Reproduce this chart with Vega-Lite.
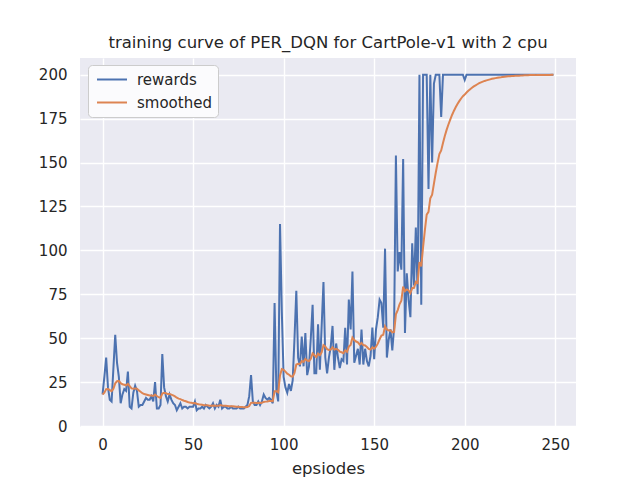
{
  "$schema": "https://vega.github.io/schema/vega-lite/v6.json",
  "width": 496,
  "height": 369,
  "autosize": {"type": "none"},
  "padding": {"left": 80, "top": 58, "right": 64, "bottom": 53},
  "background": "white",
  "title": {"text": "training curve of PER_DQN for CartPole-v1 with 2 cpu", "font": "DejaVu Sans", "fontSize": 16.5, "fontWeight": "normal", "color": "#262626", "offset": 7},
  "config": {
    "view": {"fill": "#EAEAF2", "stroke": null},
    "font": "DejaVu Sans"
  },
  "data": {"values": [
{"episode":0,"rewards":18,"smoothed":18.0},{"episode":1,"rewards":28,"smoothed":19.0},{"episode":2,"rewards":39,"smoothed":21.0},{"episode":3,"rewards":22,"smoothed":21.1},{"episode":4,"rewards":15,"smoothed":20.5},{"episode":5,"rewards":14,"smoothed":19.9},{"episode":6,"rewards":33,"smoothed":21.2},{"episode":7,"rewards":52,"smoothed":24.3},{"episode":8,"rewards":36,"smoothed":25.5},{"episode":9,"rewards":28,"smoothed":25.7},
{"episode":10,"rewards":13,"smoothed":24.4},{"episode":11,"rewards":18,"smoothed":23.8},{"episode":12,"rewards":21,"smoothed":23.5},{"episode":13,"rewards":20,"smoothed":23.2},{"episode":14,"rewards":31,"smoothed":24.0},{"episode":15,"rewards":11,"smoothed":22.7},{"episode":16,"rewards":10,"smoothed":21.4},{"episode":17,"rewards":19,"smoothed":21.2},{"episode":18,"rewards":23,"smoothed":21.4},{"episode":19,"rewards":20,"smoothed":21.3},
{"episode":20,"rewards":11,"smoothed":20.3},{"episode":21,"rewards":12,"smoothed":19.5},{"episode":22,"rewards":12,"smoothed":18.7},{"episode":23,"rewards":14,"smoothed":18.2},{"episode":24,"rewards":16,"smoothed":18.0},{"episode":25,"rewards":15,"smoothed":17.7},{"episode":26,"rewards":15,"smoothed":17.4},{"episode":27,"rewards":17,"smoothed":17.4},{"episode":28,"rewards":14,"smoothed":17.1},{"episode":29,"rewards":25,"smoothed":17.9},
{"episode":30,"rewards":10,"smoothed":17.1},{"episode":31,"rewards":10,"smoothed":16.4},{"episode":32,"rewards":12,"smoothed":16.0},{"episode":33,"rewards":41,"smoothed":18.5},{"episode":34,"rewards":22,"smoothed":18.9},{"episode":35,"rewards":17,"smoothed":18.7},{"episode":36,"rewards":14,"smoothed":18.2},{"episode":37,"rewards":18,"smoothed":18.2},{"episode":38,"rewards":15,"smoothed":17.9},{"episode":39,"rewards":13,"smoothed":17.4},
{"episode":40,"rewards":12,"smoothed":16.9},{"episode":41,"rewards":9,"smoothed":16.1},{"episode":42,"rewards":11,"smoothed":15.6},{"episode":43,"rewards":13,"smoothed":15.3},{"episode":44,"rewards":10,"smoothed":14.8},{"episode":45,"rewards":11,"smoothed":14.4},{"episode":46,"rewards":11,"smoothed":14.1},{"episode":47,"rewards":10,"smoothed":13.7},{"episode":48,"rewards":11,"smoothed":13.4},{"episode":49,"rewards":11,"smoothed":13.2},
{"episode":50,"rewards":11,"smoothed":13.0},{"episode":51,"rewards":14,"smoothed":13.1},{"episode":52,"rewards":9,"smoothed":12.7},{"episode":53,"rewards":10,"smoothed":12.4},{"episode":54,"rewards":10,"smoothed":12.2},{"episode":55,"rewards":11,"smoothed":12.1},{"episode":56,"rewards":10,"smoothed":11.9},{"episode":57,"rewards":12,"smoothed":11.9},{"episode":58,"rewards":11,"smoothed":11.8},{"episode":59,"rewards":10,"smoothed":11.6},
{"episode":60,"rewards":11,"smoothed":11.5},{"episode":61,"rewards":13,"smoothed":11.7},{"episode":62,"rewards":10,"smoothed":11.5},{"episode":63,"rewards":12,"smoothed":11.6},{"episode":64,"rewards":11,"smoothed":11.5},{"episode":65,"rewards":15,"smoothed":11.9},{"episode":66,"rewards":10,"smoothed":11.7},{"episode":67,"rewards":11,"smoothed":11.6},{"episode":68,"rewards":11,"smoothed":11.5},{"episode":69,"rewards":10,"smoothed":11.4},
{"episode":70,"rewards":10,"smoothed":11.3},{"episode":71,"rewards":11,"smoothed":11.3},{"episode":72,"rewards":10,"smoothed":11.2},{"episode":73,"rewards":10,"smoothed":11.1},{"episode":74,"rewards":10,"smoothed":11.0},{"episode":75,"rewards":11,"smoothed":11.0},{"episode":76,"rewards":10,"smoothed":10.9},{"episode":77,"rewards":10,"smoothed":10.8},{"episode":78,"rewards":10,"smoothed":10.7},{"episode":79,"rewards":11,"smoothed":10.7},
{"episode":80,"rewards":12,"smoothed":10.8},{"episode":81,"rewards":17,"smoothed":11.4},{"episode":82,"rewards":29,"smoothed":13.2},{"episode":83,"rewards":14,"smoothed":13.3},{"episode":84,"rewards":12,"smoothed":13.2},{"episode":85,"rewards":12,"smoothed":13.1},{"episode":86,"rewards":14,"smoothed":13.2},{"episode":87,"rewards":12,"smoothed":13.1},{"episode":88,"rewards":14,"smoothed":13.2},{"episode":89,"rewards":18,"smoothed":13.7},
{"episode":90,"rewards":16,"smoothed":13.9},{"episode":91,"rewards":15,"smoothed":14.0},{"episode":92,"rewards":16,"smoothed":14.2},{"episode":93,"rewards":15,"smoothed":14.3},{"episode":94,"rewards":13,"smoothed":14.2},{"episode":95,"rewards":70,"smoothed":19.8},{"episode":96,"rewards":20,"smoothed":19.8},{"episode":97,"rewards":14,"smoothed":19.2},{"episode":98,"rewards":115,"smoothed":28.8},{"episode":99,"rewards":65,"smoothed":32.4},
{"episode":100,"rewards":28,"smoothed":32.0},{"episode":101,"rewards":22,"smoothed":31.0},{"episode":102,"rewards":19,"smoothed":29.8},{"episode":103,"rewards":24,"smoothed":29.2},{"episode":104,"rewards":20,"smoothed":28.3},{"episode":105,"rewards":26,"smoothed":28.1},{"episode":106,"rewards":50,"smoothed":30.3},{"episode":107,"rewards":77,"smoothed":35.0},{"episode":108,"rewards":39,"smoothed":35.4},{"episode":109,"rewards":34,"smoothed":35.3},
{"episode":110,"rewards":51,"smoothed":36.9},{"episode":111,"rewards":34,"smoothed":36.6},{"episode":112,"rewards":53,"smoothed":38.2},{"episode":113,"rewards":29,"smoothed":37.3},{"episode":114,"rewards":34,"smoothed":37.0},{"episode":115,"rewards":50,"smoothed":38.3},{"episode":116,"rewards":69,"smoothed":41.4},{"episode":117,"rewards":30,"smoothed":40.3},{"episode":118,"rewards":30,"smoothed":39.3},{"episode":119,"rewards":58,"smoothed":41.2},
{"episode":120,"rewards":32,"smoothed":40.3},{"episode":121,"rewards":57,"smoothed":42.0},{"episode":122,"rewards":82,"smoothed":46.0},{"episode":123,"rewards":39,"smoothed":45.3},{"episode":124,"rewards":30,"smoothed":43.8},{"episode":125,"rewards":39,"smoothed":43.3},{"episode":126,"rewards":45,"smoothed":43.5},{"episode":127,"rewards":57,"smoothed":44.8},{"episode":128,"rewards":32,"smoothed":43.5},{"episode":129,"rewards":47,"smoothed":43.9},
{"episode":130,"rewards":39,"smoothed":43.4},{"episode":131,"rewards":33,"smoothed":42.4},{"episode":132,"rewards":38,"smoothed":42.0},{"episode":133,"rewards":37,"smoothed":41.5},{"episode":134,"rewards":56,"smoothed":43.0},{"episode":135,"rewards":35,"smoothed":42.2},{"episode":136,"rewards":72,"smoothed":45.2},{"episode":137,"rewards":55,"smoothed":46.2},{"episode":138,"rewards":88,"smoothed":50.4},{"episode":139,"rewards":36,"smoothed":49.0},
{"episode":140,"rewards":40,"smoothed":48.1},{"episode":141,"rewards":44,"smoothed":47.7},{"episode":142,"rewards":35,"smoothed":46.4},{"episode":143,"rewards":55,"smoothed":47.3},{"episode":144,"rewards":35,"smoothed":46.1},{"episode":145,"rewards":44,"smoothed":45.9},{"episode":146,"rewards":37,"smoothed":45.0},{"episode":147,"rewards":34,"smoothed":43.9},{"episode":148,"rewards":40,"smoothed":43.5},{"episode":149,"rewards":56,"smoothed":44.8},
{"episode":150,"rewards":38,"smoothed":44.1},{"episode":151,"rewards":55,"smoothed":45.2},{"episode":152,"rewards":62,"smoothed":46.9},{"episode":153,"rewards":72,"smoothed":49.4},{"episode":154,"rewards":70,"smoothed":51.5},{"episode":155,"rewards":56,"smoothed":51.9},{"episode":156,"rewards":101,"smoothed":56.8},{"episode":157,"rewards":39,"smoothed":55.0},{"episode":158,"rewards":49,"smoothed":54.4},{"episode":159,"rewards":55,"smoothed":54.5},
{"episode":160,"rewards":43,"smoothed":53.3},{"episode":161,"rewards":56,"smoothed":53.6},{"episode":162,"rewards":154,"smoothed":63.6},{"episode":163,"rewards":88,"smoothed":66.0},{"episode":164,"rewards":99,"smoothed":69.3},{"episode":165,"rewards":89,"smoothed":71.3},{"episode":166,"rewards":152,"smoothed":79.4},{"episode":167,"rewards":53,"smoothed":76.8},{"episode":168,"rewards":87,"smoothed":77.8},{"episode":169,"rewards":72,"smoothed":77.2},
{"episode":170,"rewards":62,"smoothed":75.7},{"episode":171,"rewards":104,"smoothed":78.5},{"episode":172,"rewards":80,"smoothed":78.7},{"episode":173,"rewards":113,"smoothed":82.1},{"episode":174,"rewards":75,"smoothed":81.4},{"episode":175,"rewards":200,"smoothed":93.3},{"episode":176,"rewards":69,"smoothed":90.9},{"episode":177,"rewards":200,"smoothed":101.8},{"episode":178,"rewards":200,"smoothed":111.6},{"episode":179,"rewards":200,"smoothed":120.4},
{"episode":180,"rewards":135,"smoothed":121.9},{"episode":181,"rewards":200,"smoothed":129.7},{"episode":182,"rewards":150,"smoothed":131.7},{"episode":183,"rewards":195,"smoothed":138.0},{"episode":184,"rewards":200,"smoothed":144.2},{"episode":185,"rewards":200,"smoothed":149.8},{"episode":186,"rewards":200,"smoothed":154.8},{"episode":187,"rewards":176,"smoothed":156.9},{"episode":188,"rewards":200,"smoothed":161.2},{"episode":189,"rewards":200,"smoothed":165.1},
{"episode":190,"rewards":200,"smoothed":168.6},{"episode":191,"rewards":200,"smoothed":171.7},{"episode":192,"rewards":200,"smoothed":174.5},{"episode":193,"rewards":200,"smoothed":177.1},{"episode":194,"rewards":200,"smoothed":179.4},{"episode":195,"rewards":200,"smoothed":181.5},{"episode":196,"rewards":200,"smoothed":183.3},{"episode":197,"rewards":200,"smoothed":185.0},{"episode":198,"rewards":200,"smoothed":186.5},{"episode":199,"rewards":200,"smoothed":187.8},
{"episode":200,"rewards":197,"smoothed":188.7},{"episode":201,"rewards":200,"smoothed":189.9},{"episode":202,"rewards":200,"smoothed":190.9},{"episode":203,"rewards":200,"smoothed":191.8},{"episode":204,"rewards":200,"smoothed":192.6},{"episode":205,"rewards":200,"smoothed":193.4},{"episode":206,"rewards":200,"smoothed":194.0},{"episode":207,"rewards":200,"smoothed":194.6},{"episode":208,"rewards":200,"smoothed":195.2},{"episode":209,"rewards":200,"smoothed":195.7},
{"episode":210,"rewards":200,"smoothed":196.1},{"episode":211,"rewards":200,"smoothed":196.5},{"episode":212,"rewards":200,"smoothed":196.8},{"episode":213,"rewards":200,"smoothed":197.1},{"episode":214,"rewards":200,"smoothed":197.4},{"episode":215,"rewards":200,"smoothed":197.7},{"episode":216,"rewards":200,"smoothed":197.9},{"episode":217,"rewards":200,"smoothed":198.1},{"episode":218,"rewards":200,"smoothed":198.3},{"episode":219,"rewards":200,"smoothed":198.5},
{"episode":220,"rewards":200,"smoothed":198.6},{"episode":221,"rewards":200,"smoothed":198.8},{"episode":222,"rewards":200,"smoothed":198.9},{"episode":223,"rewards":200,"smoothed":199.0},{"episode":224,"rewards":200,"smoothed":199.1},{"episode":225,"rewards":200,"smoothed":199.2},{"episode":226,"rewards":200,"smoothed":199.3},{"episode":227,"rewards":200,"smoothed":199.3},{"episode":228,"rewards":200,"smoothed":199.4},{"episode":229,"rewards":200,"smoothed":199.5},
{"episode":230,"rewards":200,"smoothed":199.5},{"episode":231,"rewards":200,"smoothed":199.6},{"episode":232,"rewards":200,"smoothed":199.6},{"episode":233,"rewards":200,"smoothed":199.7},{"episode":234,"rewards":200,"smoothed":199.7},{"episode":235,"rewards":200,"smoothed":199.7},{"episode":236,"rewards":200,"smoothed":199.8},{"episode":237,"rewards":200,"smoothed":199.8},{"episode":238,"rewards":200,"smoothed":199.8},{"episode":239,"rewards":200,"smoothed":199.8},
{"episode":240,"rewards":200,"smoothed":199.9},{"episode":241,"rewards":200,"smoothed":199.9},{"episode":242,"rewards":200,"smoothed":199.9},{"episode":243,"rewards":200,"smoothed":199.9},{"episode":244,"rewards":200,"smoothed":199.9},{"episode":245,"rewards":200,"smoothed":199.9},{"episode":246,"rewards":200,"smoothed":199.9},{"episode":247,"rewards":200,"smoothed":199.9},{"episode":248,"rewards":200,"smoothed":200.0},{"episode":249,"rewards":200,"smoothed":200.0}
  ]},
  "transform": [{"fold": ["rewards", "smoothed"], "as": ["series", "value"]}],
  "mark": {"type": "line", "strokeWidth": 2, "clip": true},
  "encoding": {
    "x": {
      "field": "episode", "type": "quantitative",
      "scale": {"domain": [-12.45, 261.45], "nice": false, "zero": false},
      "axis": {"title": "epsiodes", "values": [0, 50, 100, 150, 200, 250], "grid": true, "gridColor": "white", "gridWidth": 1.4, "domain": false, "ticks": false, "labelPadding": 10, "labelFontSize": 15, "labelColor": "#262626", "labelFont": "DejaVu Sans", "titleFont": "DejaVu Sans", "titleFontSize": 16.5, "titleFontWeight": "normal", "titleColor": "#262626", "titlePadding": 8, "labelFlush": false}
    },
    "y": {
      "field": "value", "type": "quantitative",
      "scale": {"domain": [-0.55, 209.55], "nice": false, "zero": false},
      "axis": {"title": null, "values": [0, 25, 50, 75, 100, 125, 150, 175, 200], "grid": true, "gridColor": "white", "gridWidth": 1.4, "domain": false, "ticks": false, "labelPadding": 13, "labelFontSize": 15, "labelColor": "#262626", "labelFont": "DejaVu Sans", "labelFlush": false}
    },
    "color": {
      "field": "series", "type": "nominal",
      "scale": {"domain": ["rewards", "smoothed"], "range": ["#4C72B0", "#DD8452"]},
      "legend": {"title": null, "orient": "none", "legendX": 8, "legendY": 7, "fillColor": "#FBFBFD", "strokeColor": "#CCCCCC", "cornerRadius": 4, "padding": 6, "symbolType": "M-0.73,0H3.27", "symbolSize": 225, "symbolStrokeWidth": 2, "labelFontSize": 15, "labelFont": "DejaVu Sans", "labelColor": "#262626", "labelOffset": 26, "rowPadding": 6}
    }
  }
}
